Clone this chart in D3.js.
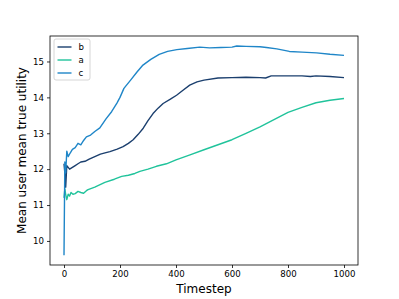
<!DOCTYPE html>
<html>
<head>
<meta charset="utf-8">
<script src="https://cdn.jsdelivr.net/npm/d3@7"></script>
<style>
  body { margin: 0; background: #fff; }
  svg { font-family: "DejaVu Sans", sans-serif; }
</style>
</head>
<body>
<script>
// data
var seriesNames = ["b", "a", "c"];
var seriesColors = ["#1b3f6e", "#20c39b", "#1f86c8"];

var bSteps = [0, 3, 6, 10, 15, 20, 30, 40, 50, 60, 75, 90, 110, 130, 150, 164, 190, 211, 230, 247, 265, 283, 300, 318, 336, 354, 380, 402, 425, 449, 475, 500, 550, 600, 650, 700, 720, 740, 760, 800, 850, 880, 900, 950, 1000];
var bValues = [12.15, 11.9, 11.5, 12.1, 12.05, 12.0, 12.05, 12.1, 12.15, 12.2, 12.22, 12.28, 12.35, 12.42, 12.46, 12.49, 12.56, 12.63, 12.72, 12.82, 12.97, 13.14, 13.35, 13.55, 13.7, 13.83, 13.95, 14.06, 14.2, 14.34, 14.43, 14.48, 14.54, 14.55, 14.56, 14.55, 14.54, 14.6, 14.6, 14.6, 14.6, 14.58, 14.6, 14.58, 14.55];

var aSteps = [0, 3, 6, 10, 15, 20, 25, 32, 40, 50, 60, 70, 80, 86, 110, 146, 180, 206, 230, 253, 271, 300, 330, 366, 400, 450, 500, 550, 600, 650, 700, 750, 800, 850, 900, 950, 1000];
var aValues = [11.2, 11.45, 11.3, 11.15, 11.3, 11.25, 11.35, 11.3, 11.32, 11.38, 11.35, 11.33, 11.4, 11.43, 11.5, 11.63, 11.72, 11.8, 11.83, 11.88, 11.94, 12.0, 12.08, 12.15, 12.26, 12.4, 12.54, 12.68, 12.82, 13.0, 13.18, 13.38, 13.58, 13.72, 13.85, 13.92, 13.97];

var cSteps = [0, 3, 6, 10, 15, 22, 30, 40, 50, 60, 70, 80, 95, 110, 128, 150, 170, 189, 200, 214, 240, 260, 282, 310, 340, 370, 403, 440, 485, 520, 560, 600, 617, 650, 700, 723, 760, 805, 850, 902, 950, 1000];
var cValues = [9.6, 12.2, 11.9, 12.5, 12.35, 12.45, 12.55, 12.6, 12.72, 12.68, 12.8, 12.9, 12.95, 13.05, 13.15, 13.4, 13.6, 13.84, 14.0, 14.25, 14.5, 14.7, 14.9, 15.06, 15.2, 15.28, 15.33, 15.36, 15.4, 15.38, 15.39, 15.4, 15.43, 15.42, 15.41, 15.39, 15.35, 15.28, 15.26, 15.24, 15.2, 15.17];

var xTicks = [0, 200, 400, 600, 800, 1000];
var yTicks = [10, 11, 12, 13, 14, 15];

var W = 399, H = 299;
var margin = {top: 36, right: 41, bottom: 34, left: 50};
var width = W - margin.left - margin.right,
    height = H - margin.top - margin.bottom;

var svg = d3.select("body").append("svg")
  .attr("width", W)
  .attr("height", H);

var g = svg.append("g")
  .attr("transform", "translate(" + margin.left + "," + margin.top + ")");

var x = d3.scaleLinear().domain([-50, 1050]).range([0, width]);
var y = d3.scaleLinear().domain([9.33, 15.71]).range([height, 0]);

var series = [
  {name: "b", steps: bSteps, values: bValues},
  {name: "a", steps: aSteps, values: aValues},
  {name: "c", steps: cSteps, values: cValues}
];

var line = d3.line()
  .x(d => x(d[0]))
  .y(d => y(d[1]));

series.forEach(function(s, i) {
  var pts = s.steps.map((t, j) => [t, s.values[j]]);
  g.append("path")
    .attr("d", line(pts))
    .attr("fill", "none")
    .attr("stroke", seriesColors[i])
    .attr("stroke-width", 1.4)
    .attr("stroke-linejoin", "round");
});

// axes
var xAxis = g.append("g")
  .attr("transform", "translate(0," + height + ")")
  .call(d3.axisBottom(x).tickValues(xTicks).tickFormat(d3.format("d")).tickSize(3).tickPadding(3));
var yAxis = g.append("g")
  .call(d3.axisLeft(y).tickValues(yTicks).tickFormat(d3.format("d")).tickSize(3).tickPadding(3));

[xAxis, yAxis].forEach(function(a) {
  a.select(".domain").remove();
  a.selectAll("line").attr("stroke", "#000").attr("stroke-width", 0.8);
  a.selectAll("text").attr("fill", "#000").style("font-size", "8.6px")
    .style("font-family", "DejaVu Sans");
});

// frame
g.append("rect")
  .attr("width", width)
  .attr("height", height)
  .attr("fill", "none")
  .attr("stroke", "#000")
  .attr("stroke-width", 0.8);

// axis labels
svg.append("text")
  .attr("x", margin.left + width / 2)
  .attr("y", 293)
  .attr("text-anchor", "middle")
  .style("font-size", "12px")
  .text("Timestep");

svg.append("text")
  .attr("transform", "translate(25.5," + (margin.top + height / 2) + ") rotate(-90)")
  .attr("text-anchor", "middle")
  .style("font-size", "12px")
  .text("Mean user mean true utility");

// legend
var legend = g.append("g").attr("transform", "translate(4,3)");
legend.append("rect")
  .attr("width", 36)
  .attr("height", 41)
  .attr("rx", 2)
  .attr("fill", "#fff")
  .attr("fill-opacity", 0.8)
  .attr("stroke", "#ccc")
  .attr("stroke-width", 0.8);

seriesNames.forEach(function(n, i) {
  var row = legend.append("g").attr("transform", "translate(0," + (8 + i * 13) + ")");
  row.append("line")
    .attr("x1", 3.5).attr("x2", 17.5)
    .attr("stroke", seriesColors[i])
    .attr("stroke-width", 1.4);
  row.append("text")
    .attr("x", 24.5)
    .attr("dy", "0.35em")
    .style("font-size", "8.6px")
    .text(n);
});
</script>
</body>
</html>
